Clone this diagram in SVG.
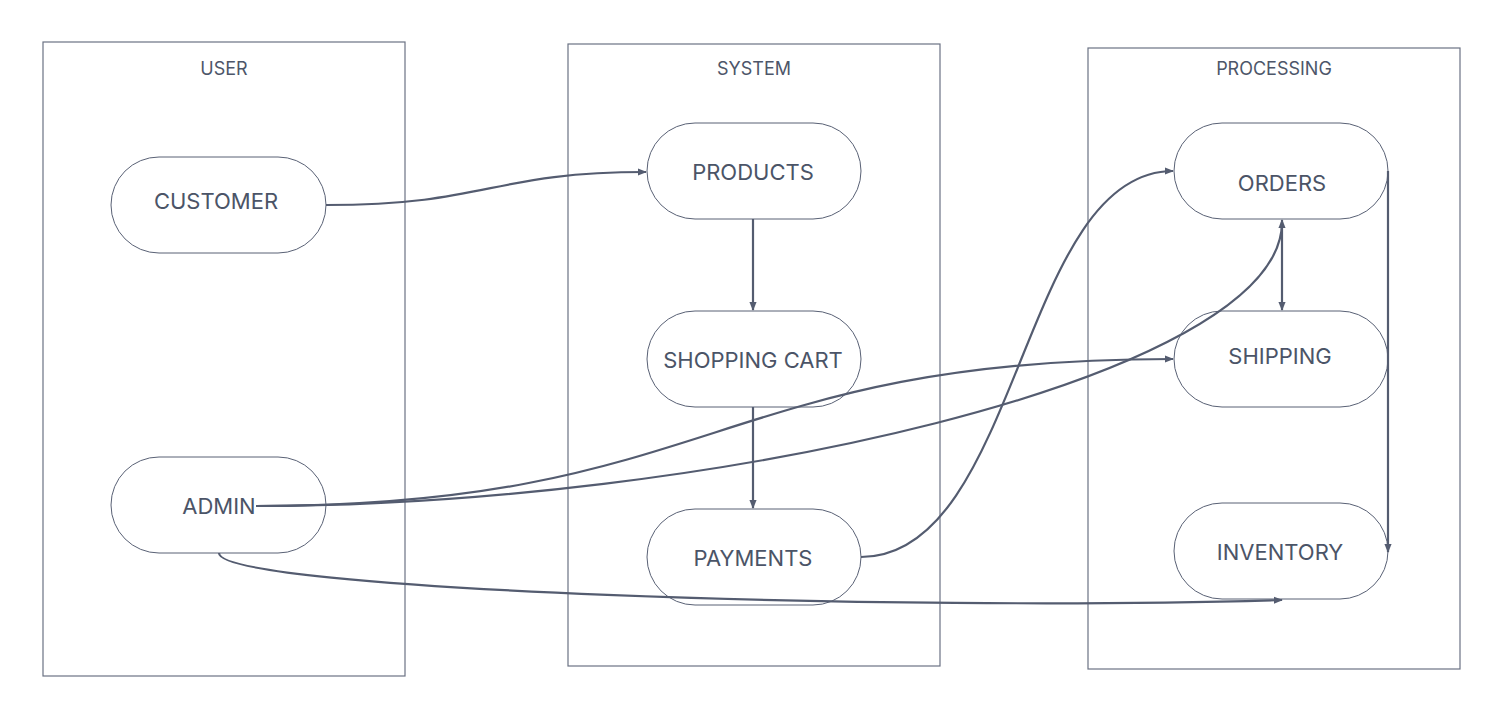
<svg xmlns="http://www.w3.org/2000/svg" width="1501" height="704" viewBox="0 0 1501 704">
<style>
.bg{fill:#ffffff}
.lane{fill:none;stroke:#6b7284;stroke-width:1.2}
.lane-label{font-family:Inter,"Liberation Sans",sans-serif;font-size:18px;fill:#4d5669;text-anchor:middle}
.node rect{fill:#ffffff;stroke:#596175;stroke-width:1}
.node text{font-family:Inter,"Liberation Sans",sans-serif;font-size:22px;fill:#4b5467;text-anchor:middle;dominant-baseline:central}
.edge{fill:none;stroke:#545c70;stroke-width:2.2}
</style>
<defs>
<marker id="arrow" viewBox="0 0 10 10" refX="9" refY="5" markerWidth="9" markerHeight="9" markerUnits="userSpaceOnUse" orient="auto-start-reverse">
<path d="M0,1 L10,5 L0,9 z" fill="#545c70"/>
</marker>
</defs>
<rect class="bg" x="0" y="0" width="1501" height="704"/>
<g id="lanes">
<g id="lane-user"><rect class="lane" x="43" y="42" width="362" height="634"/><text class="lane-label" x="224" y="75">USER</text></g>
<g id="lane-system"><rect class="lane" x="568" y="44" width="372" height="622"/><text class="lane-label" x="754" y="75">SYSTEM</text></g>
<g id="lane-processing"><rect class="lane" x="1088" y="48" width="372" height="621"/><text class="lane-label" x="1274" y="75">PROCESSING</text></g>
</g>
<g id="customer" class="node"><rect x="111" y="157" width="215" height="96" rx="48"/><text x="216" y="201">CUSTOMER</text></g>
<g id="admin" class="node"><rect x="111" y="457" width="215" height="96" rx="48"/><text x="219" y="506">ADMIN</text></g>
<g id="products" class="node"><rect x="647" y="123" width="214" height="96" rx="48"/><text x="753" y="172">PRODUCTS</text></g>
<g id="shopping-cart" class="node"><rect x="647" y="311" width="214" height="96" rx="48"/><text x="753" y="360">SHOPPING CART</text></g>
<g id="payments" class="node"><rect x="647" y="509" width="214" height="96" rx="48"/><text x="753" y="558">PAYMENTS</text></g>
<g id="orders" class="node"><rect x="1174" y="123" width="214" height="96" rx="48"/><text x="1282" y="183">ORDERS</text></g>
<g id="shipping" class="node"><rect x="1174" y="311" width="214" height="96" rx="48"/><text x="1280" y="356">SHIPPING</text></g>
<g id="inventory" class="node"><rect x="1174" y="503" width="214" height="96" rx="48"/><text x="1280" y="552">INVENTORY</text></g>
<g id="connectors">
<path class="edge" d="M326,205 C490,205 490,172 646,172" marker-end="url(#arrow)"/>
<path class="edge" d="M753,219 L753,310" marker-end="url(#arrow)"/>
<path class="edge" d="M753,407 L753,508" marker-end="url(#arrow)"/>
<path class="edge" d="M861,557 C1020,557 1020,171 1173,171" marker-end="url(#arrow)"/>
<path class="edge" d="M1282,220 L1282,310" marker-start="url(#arrow)" marker-end="url(#arrow)"/>
<path class="edge" d="M256,506 C715,506 715,359 1173,359" marker-end="url(#arrow)"/>
<path class="edge" d="M256,506 C700,506 1282,380 1282,222"/>
<path class="edge" d="M1388,171 L1388,552" marker-end="url(#arrow)"/>
<path class="edge" d="M219,553 C219,590 900,612 1282,600" marker-end="url(#arrow)"/>
</g>
</svg>
